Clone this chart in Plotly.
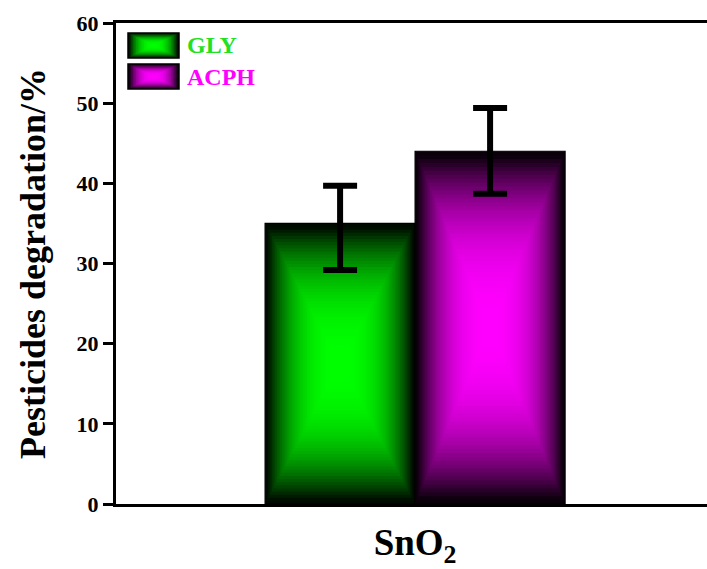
import plotly.graph_objects as go

# ---- data ----
categories = ["SnO<sub>2</sub>"]
series_names = ["GLY", "ACPH"]
gly_values = [35.0]
acph_values = [44.0]
gly_err_plus = [4.7]
gly_err_minus = [5.8]
acph_err_plus = [5.4]
acph_err_minus = [5.3]
y_ticks = [0, 10, 20, 30, 40, 50, 60]

# ---- styling ----
FONT = "Liberation Serif"
bright = {"GLY": (0, 255, 0), "ACPH": (255, 0, 255)}
text_col = {"GLY": "#22e022", "ACPH": "#ff00ff"}
bar_w = 0.5
offsets = {"GLY": -0.25, "ACPH": 0.25}
N = 45


def shade(rgb, t):
    f = max(0.04, 1 - t ** 2.6)
    return "rgb(%d,%d,%d)" % tuple(int(c * f) for c in rgb)


fig = go.Figure()
series = {"GLY": gly_values, "ACPH": acph_values}
for name in series_names:
    vals = series[name]
    for k in range(N):
        s = 1 - k / N
        xs = [i + offsets[name] for i in range(len(categories))]
        ys = [s * v for v in vals]
        bases = [v / 2 - s * v / 2 for v in vals]
        fig.add_trace(go.Bar(
            x=xs, y=ys, base=bases, width=[s * bar_w] * len(vals),
            marker=dict(color=shade(bright[name], s),
                        line=dict(color="black", width=1.2 if k == 0 else 0)),
            showlegend=False, hoverinfo="skip" if k else None, name=name,
        ))

# error bars on top
for name, vals, ep, em in [("GLY", gly_values, gly_err_plus, gly_err_minus),
                           ("ACPH", acph_values, acph_err_plus, acph_err_minus)]:
    fig.add_trace(go.Scatter(
        x=[i + offsets[name] for i in range(len(categories))], y=vals,
        mode="markers", marker=dict(size=1, color="rgba(0,0,0,0)"),
        error_y=dict(type="data", symmetric=False, array=ep, arrayminus=em,
                     color="black", thickness=6, width=17),
        showlegend=False, hoverinfo="skip",
    ))

# ---- custom legend (gradient keys) ----
L, T, R, B = 116, 23, 707, 504
def px(x):
    return (x - L) / (R - L)
def py(y):
    return (B - y) / (B - T)

shapes = []
annotations = []
for j, name in enumerate(series_names):
    x0, x1 = 128, 179
    y0, y1 = 33 + j * 31, 58 + j * 31
    cx, cy = (x0 + x1) / 2, (y0 + y1) / 2
    M = 16
    for k in range(M):
        s = 1 - k / M
        hw, hh = s * (x1 - x0) / 2, s * (y1 - y0) / 2
        shapes.append(dict(type="rect", xref="paper", yref="paper",
                           x0=px(cx - hw), x1=px(cx + hw), y0=py(cy + hh), y1=py(cy - hh),
                           fillcolor=shade(bright[name], s),
                           line=dict(color="black", width=1.5 if k == 0 else 0)))
    annotations.append(dict(xref="paper", yref="paper", x=px(185), y=py(cy),
                            xanchor="left", yanchor="middle", showarrow=False,
                            text="<b>%s</b>" % name,
                            font=dict(family=FONT, size=24, color=text_col[name])))

fig.update_layout(
    width=707, height=569,
    margin=dict(l=L, r=0, t=T, b=569 - B),
    paper_bgcolor="white", plot_bgcolor="white",
    barmode="overlay",
    shapes=shapes, annotations=annotations,
    font=dict(family=FONT, color="black"),
    showlegend=False,
)
fig.update_xaxes(
    range=[-0.997, 0.973], tickvals=list(range(len(categories))),
    ticktext=["<b>%s</b>" % c for c in categories],
    tickfont=dict(family=FONT, size=37, color="black"),
    ticks="", showline=True, linecolor="black", linewidth=3, mirror=True,
    showgrid=False, zeroline=False, ticklabelstandoff=4, automargin=False,
)
fig.update_yaxes(
    range=[0, 60], tickvals=y_ticks, ticktext=["<b>%d</b>" % t for t in y_ticks],
    tickfont=dict(family=FONT, size=22, color="black"),
    ticks="outside", ticklen=10, tickwidth=3, tickcolor="black",
    showline=True, linecolor="black", linewidth=3, mirror=False,
    showgrid=False, zeroline=False, automargin=False,
    title=dict(text="<b>Pesticides degradation/%</b>",
               font=dict(family=FONT, size=36, color="black"), standoff=20),
)

fig.write_html(
    "out.html",
    config={"displayModeBar": False},
    post_script="document.body.style.margin='0';document.body.style.overflow='hidden';",
)
